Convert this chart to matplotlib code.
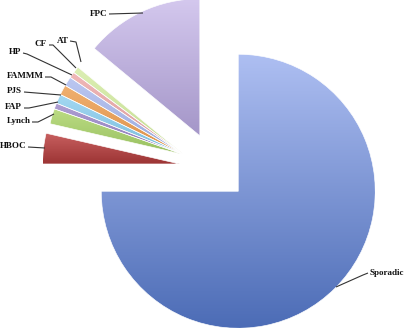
import numpy as np
import matplotlib
matplotlib.use("Agg")
import matplotlib.pyplot as plt
from matplotlib.colors import LinearSegmentedColormap

# ---- data ----
labels = ["FPC", "AT", "CF", "HP", "FAMMM", "PJS", "FAP", "Lynch", "HBOC", "Sporadic"]
values = [14.0, 0.8, 0.7, 1.1, 1.2, 1.1, 0.7, 1.8, 3.6, 75.0]
explode = [0.26, 0.25, 0.25, 0.25, 0.25, 0.25, 0.25, 0.25, 0.26, 0.24]
top_colors = ["#d4c8ee", "#dcefb4", "#f0b8b8", "#bcc8f2", "#f0b070", "#a4d8f2", "#b0a0d4", "#bcdc84", "#c86060", "#aebff2"]
bot_colors = ["#a496c8", "#c4dc90", "#d89898", "#98a8dc", "#dc9048", "#78bcdc", "#8a78b8", "#98c060", "#9c3434", "#4c6cb6"]
small_group = ["AT", "CF", "HP", "FAMMM", "PJS", "FAP", "Lynch"]

W, H = 412, 331
CX, CY, RPX = 215, 168, 137

def px(x, y):
    return ((x - CX) / RPX, (CY - y) / RPX)

fig = plt.figure(figsize=(W / 100, H / 100), dpi=100)
ax = fig.add_axes([0, 0, 1, 1])

wedges, _ = ax.pie(values, explode=explode, startangle=90, counterclock=True,
                   radius=1.0, center=(0, 0), frame=False,
                   wedgeprops=dict(edgecolor="white", linewidth=0.45))

# the small slices are pulled out together, along the middle of their group
idx = [labels.index(l) for l in small_group]
g1 = min(wedges[i].theta1 for i in idx)
g2 = max(wedges[i].theta2 for i in idx)
gm = np.deg2rad(0.5 * (g1 + g2) + 3.0)
gexp = explode[idx[0]]
for i in idx:
    wedges[i].set_center((gexp * np.cos(gm), gexp * np.sin(gm)))

for w, c1, c2 in zip(wedges, top_colors, bot_colors):
    cmap = LinearSegmentedColormap.from_list("g", [c2, c1])
    th1, th2 = np.deg2rad(w.theta1), np.deg2rad(w.theta2)
    cx, cy = w.center
    ang = np.linspace(th1, th2, 60)
    ys = np.concatenate([[cy], cy + w.r * np.sin(ang)])
    xs = np.concatenate([[cx], cx + w.r * np.cos(ang)])
    grad = np.linspace(0, 1, 256).reshape(-1, 1)
    im = ax.imshow(grad, cmap=cmap, origin="lower", aspect="auto",
                   extent=[xs.min(), xs.max(), ys.min(), ys.max()],
                   interpolation="bilinear", zorder=w.get_zorder() - 0.1)
    im.set_clip_path(w)
    w.set_facecolor("none")

ax.set_xlim(-CX / RPX, (W - CX) / RPX)
ax.set_ylim(-(H - CY) / RPX, CY / RPX)
ax.set_aspect("auto")
ax.axis("off")

# label positions (pixels): text anchor, leader polyline
label_layout = {
    "FPC":     ((107, 14, "right"), [(109, 14), (143, 13)]),
    "AT":      ((68.5, 41, "right"), [(70, 41), (76, 42), (81, 62)]),
    "CF":      ((47, 44, "right"),  [(49, 45), (53, 45), (76, 68)]),
    "HP":      ((21, 52, "right"),  [(23, 53), (27, 54), (72, 75)]),
    "FAMMM":   ((43.5, 76, "right"), [(45, 77), (51, 77), (66, 85)]),
    "PJS":     ((22, 91, "right"),  [(24, 92), (61, 95)]),
    "FAP":     ((22, 107, "right"), [(24, 108), (29, 108), (58, 102)]),
    "Lynch":   ((30.5, 121, "right"), [(32, 122), (38, 122), (54, 114)]),
    "HBOC":    ((26, 146, "right"), [(28, 147), (45, 148)]),
    "Sporadic": ((370, 273, "left"), [(368, 273), (363, 275), (336, 287)]),
}

for lab in labels:
    (tx, ty, ha), line = label_layout[lab]
    x, y = px(tx, ty)
    ax.text(x, y, lab, ha=ha, va="center", fontsize=6.5, fontweight="bold",
            family="Liberation Serif", color="#111111")
    pts = np.array([px(a, b) for a, b in line])
    ax.plot(pts[:, 0], pts[:, 1], color="#333333", lw=0.8, solid_capstyle="butt")

fig.savefig("out.png", dpi=100)
